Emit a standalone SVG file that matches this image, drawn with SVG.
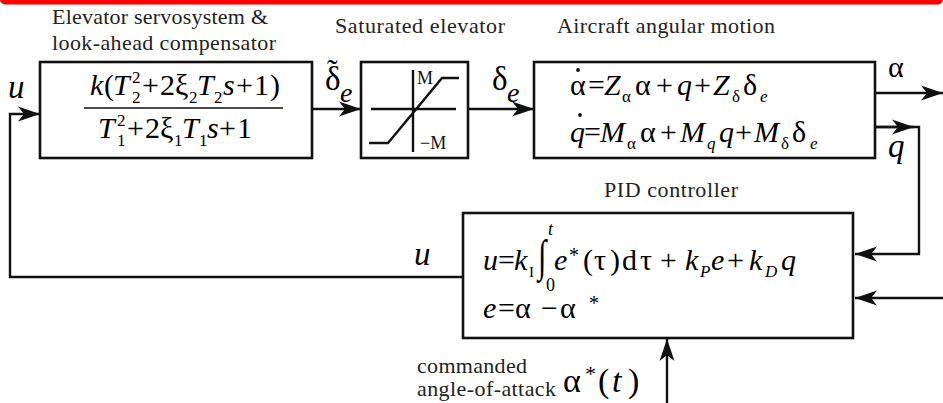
<svg xmlns="http://www.w3.org/2000/svg" width="943" height="403" viewBox="0 0 943 403" font-family="Liberation Serif, serif">
<defs>
<style>
text{font-family:'Liberation Serif',serif}
.t{fill:#222;font-size:22px}
.m{fill:#000;font-size:30px}
.i{font-style:italic}
.s{font-size:17px}
.box{fill:#fff;stroke:#111;stroke-width:2.6}
.ln{fill:none;stroke:#111;stroke-width:2.4}
.thin{fill:none;stroke:#111;stroke-width:1.6}
</style>
<marker id="ah" viewBox="-23 -8 25 16" refX="0" refY="0" markerWidth="25" markerHeight="16" markerUnits="userSpaceOnUse" orient="auto">
<path d="M0,0 L-22,-7.5 L-16,0 L-22,7.5 Z" fill="#111"/>
</marker>
</defs>
<rect x="0" y="-10" width="943" height="14.5" rx="5" fill="#ff0000"/>

<g id="servo">
<text class="t" x="52" y="24" textLength="216">Elevator servosystem &amp;</text>
<text class="t" x="52" y="50" textLength="224">look-ahead compensator</text>
<rect class="box" x="40" y="62" width="272" height="96"/>
<text class="m"><tspan class="i" x="90" y="95">k</tspan><tspan x="104" y="95">(</tspan><tspan class="i" x="113" y="95">T</tspan><tspan class="s" x="132" y="83">2</tspan><tspan class="s" x="132" y="103">2</tspan><tspan x="142" y="95">+</tspan><tspan x="160" y="95">2</tspan><tspan x="175" y="95">ξ</tspan><tspan class="s" x="189" y="103">2</tspan><tspan class="i" x="197" y="95">T</tspan><tspan class="s" x="214" y="103">2</tspan><tspan class="i" x="223" y="95">s</tspan><tspan x="236" y="95">+</tspan><tspan x="254" y="95">1</tspan><tspan x="270" y="95">)</tspan></text>
<line class="thin" x1="84" y1="108" x2="283" y2="108"/>
<text class="m"><tspan class="i" x="98" y="138">T</tspan><tspan class="s" x="117" y="126">2</tspan><tspan class="s" x="117" y="146">1</tspan><tspan x="127" y="138">+</tspan><tspan x="145" y="138">2</tspan><tspan x="160" y="138">ξ</tspan><tspan class="s" x="174" y="146">1</tspan><tspan class="i" x="182" y="138">T</tspan><tspan class="s" x="199" y="146">1</tspan><tspan class="i" x="207" y="138">s</tspan><tspan x="219" y="138">+</tspan><tspan x="237" y="138">1</tspan></text>
</g>

<g id="saturation">
<text class="t" x="335" y="33" textLength="170">Saturated elevator</text>
<rect class="box" x="361" y="62" width="107" height="96"/>
<line class="ln" x1="371" y1="109" x2="456" y2="109"/>
<line class="ln" x1="413" y1="70" x2="413" y2="152"/>
<polyline class="ln" points="369,143 388,143 442,78 459,78"/>
<text class="t" style="font-size:18px;fill:#111" x="417" y="84">M</text>
<text class="t" style="font-size:18px;fill:#111" x="420" y="149">−M</text>
</g>

<g id="aircraft">
<text class="t" x="557" y="33" textLength="218">Aircraft angular motion</text>
<rect class="box" x="534" y="62" width="341" height="96"/>
<text class="m"><tspan x="570" y="95">α</tspan><tspan x="588" y="95">=</tspan><tspan class="i" x="604" y="95">Z</tspan><tspan class="s" x="622" y="102">α</tspan><tspan x="635" y="95">α</tspan><tspan x="656" y="95">+</tspan><tspan class="i" x="677" y="95">q</tspan><tspan x="694" y="95">+</tspan><tspan class="i" x="713" y="95">Z</tspan><tspan class="s" x="732" y="102">δ</tspan><tspan x="743" y="95">δ</tspan><tspan class="s i" x="760" y="102">e</tspan></text>
<circle cx="578" cy="70" r="1.9" fill="#111"/>
<text class="m"><tspan class="i" x="570" y="142">q</tspan><tspan x="584" y="142">=</tspan><tspan class="i" x="600" y="142">M</tspan><tspan class="s" x="627" y="149">α</tspan><tspan x="640" y="142">α</tspan><tspan x="660" y="142">+</tspan><tspan class="i" x="680" y="142">M</tspan><tspan class="s i" x="707" y="149">q</tspan><tspan class="i" x="719" y="142">q</tspan><tspan x="735" y="142">+</tspan><tspan class="i" x="754" y="142">M</tspan><tspan class="s" x="781" y="149">δ</tspan><tspan x="792" y="142">δ</tspan><tspan class="s i" x="810" y="149">e</tspan></text>
<circle cx="580" cy="115" r="1.9" fill="#111"/>
</g>

<g id="pid">
<text class="t" x="604" y="197" textLength="134">PID controller</text>
<rect class="box" x="463" y="213" width="390" height="125"/>
<text class="m"><tspan class="i" x="483" y="270">u</tspan><tspan x="498" y="270">=</tspan><tspan class="i" x="514" y="270">k</tspan><tspan style="font-size:15px" x="529" y="277">I</tspan><tspan class="i" x="554" y="270">e</tspan><tspan style="font-size:20px" x="569" y="262">*</tspan><tspan x="583" y="270">(</tspan><tspan x="594" y="270">τ</tspan><tspan x="610" y="270">)</tspan><tspan x="622" y="270">d</tspan><tspan x="640" y="270">τ</tspan><tspan x="660" y="270">+</tspan><tspan class="i" x="685" y="270">k</tspan><tspan class="s i" x="700" y="277">P</tspan><tspan class="i" x="711" y="270">e</tspan><tspan x="727" y="270">+</tspan><tspan class="i" x="749" y="270">k</tspan><tspan class="s i" x="765" y="277">D</tspan><tspan class="i" x="781" y="270">q</tspan></text>
<text class="m" transform="translate(538,271) scale(1,1.5)">∫</text>
<text class="m i" style="font-size:18px" x="548" y="235">t</text>
<text class="m" style="font-size:18px" x="546" y="291">0</text>
<text class="m"><tspan class="i" x="483" y="318">e</tspan><tspan x="498" y="318">=</tspan><tspan x="515" y="318">α</tspan><tspan x="541" y="318">−</tspan><tspan x="560" y="318">α</tspan><tspan style="font-size:20px" x="589" y="310">*</tspan></text>
</g>

<g id="connectors">
<line class="ln" x1="312" y1="109" x2="361" y2="109" marker-end="url(#ah)"/>
<line class="ln" x1="468" y1="109" x2="534" y2="109" marker-end="url(#ah)"/>
<line class="ln" x1="875" y1="93" x2="943" y2="93" marker-end="url(#ah)"/>
<polyline class="ln" points="875,127 919,127 919,254 855,254" marker-end="url(#ah)"/>
<line class="ln" x1="875" y1="127" x2="914" y2="127" marker-end="url(#ah)"/>
<line class="ln" x1="943" y1="298" x2="855" y2="298" marker-end="url(#ah)"/>
<polyline class="ln" points="463,277 10,277 10,114 40,114" marker-end="url(#ah)"/>
<line class="ln" x1="667" y1="403" x2="667" y2="339" marker-end="url(#ah)"/>
</g>

<g id="labels">
<text class="m i" style="font-size:33px" x="8" y="98">u</text>
<text class="m" style="font-size:33px" x="325" y="90">δ</text>
<text class="m" style="font-size:32px" x="327" y="81">˜</text>
<text class="m i" style="font-size:28px" x="340" y="102">e</text>
<text class="m" style="font-size:33px" x="492" y="90">δ</text>
<text class="m i" style="font-size:28px" x="507" y="102">e</text>
<text class="m" x="888" y="77">α</text>
<text class="m i" style="font-size:33px" x="888" y="157">q</text>
<text class="m i" style="font-size:33px" x="414" y="265">u</text>
<text class="t" x="417" y="373" textLength="110">commanded</text>
<text class="t" x="417" y="396" textLength="139">angle-of-attack</text>
<text class="m" style="font-size:34px"><tspan x="563" y="392">α</tspan><tspan style="font-size:22px" x="585" y="381">*</tspan><tspan x="598" y="392">(</tspan><tspan class="i" x="612" y="392">t</tspan><tspan x="628" y="392">)</tspan></text>
</g>
</svg>
